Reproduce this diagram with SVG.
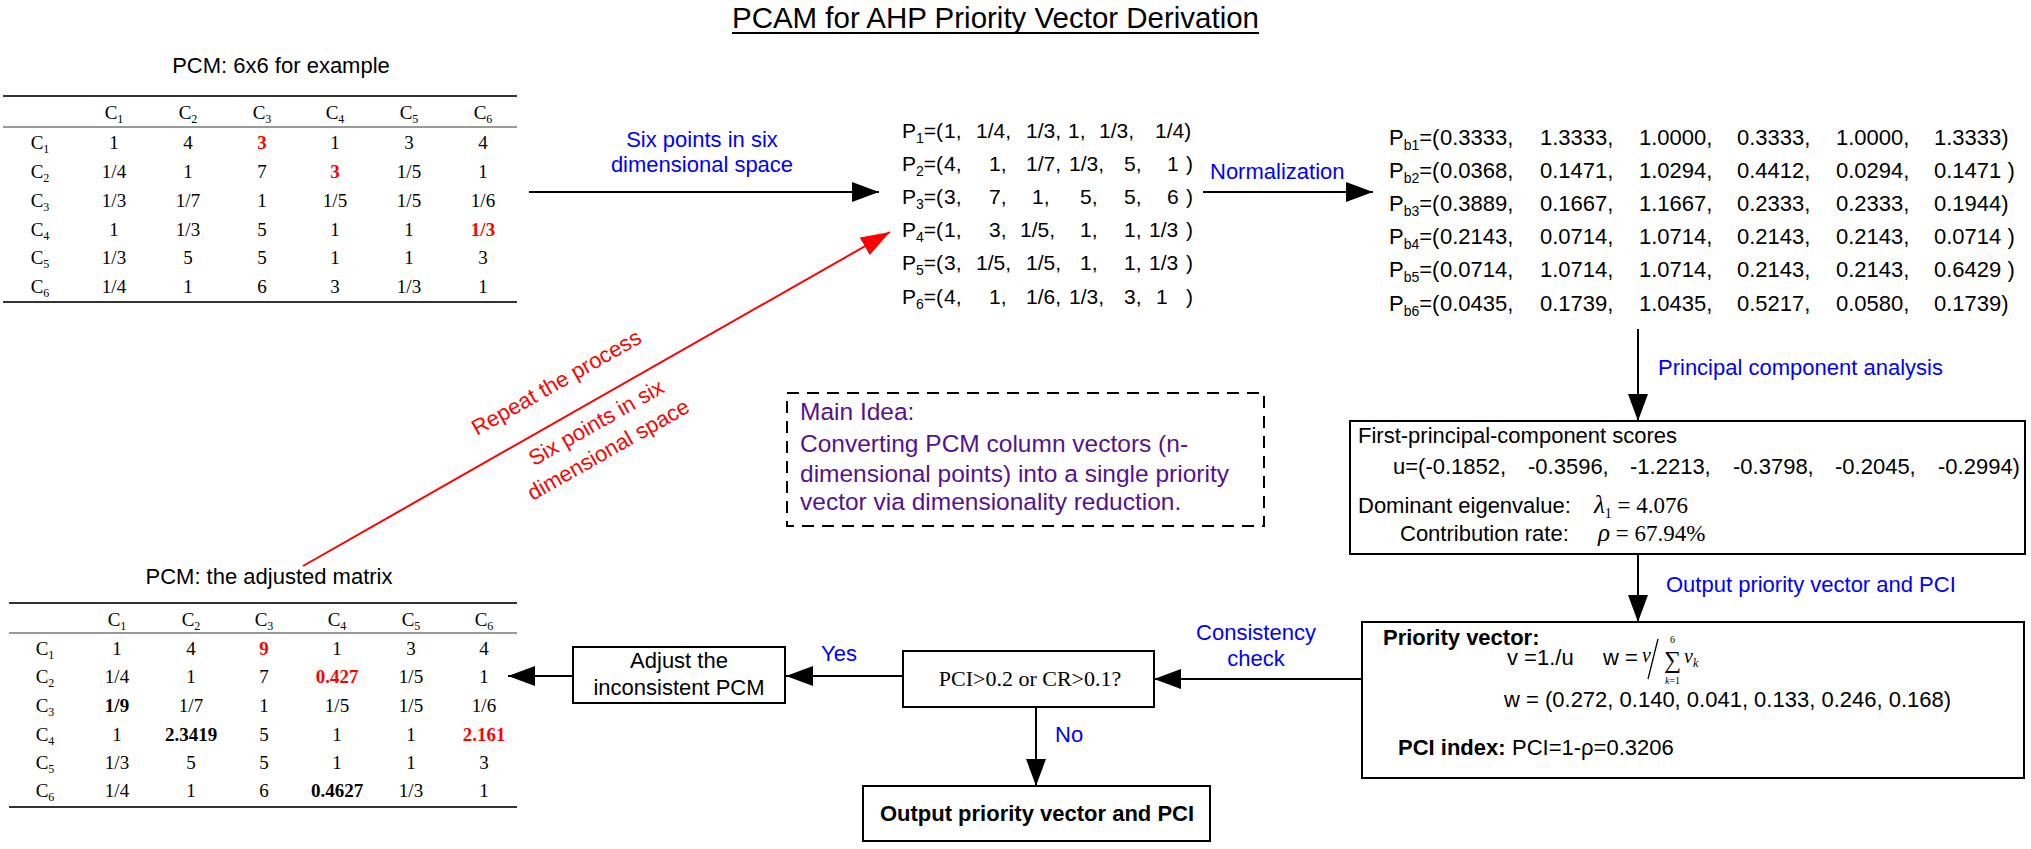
<svg xmlns="http://www.w3.org/2000/svg" width="2031" height="849" viewBox="0 0 2031 849">
<style>
.t{font-family:"Liberation Sans",Arial,sans-serif;font-size:22px;fill:#000}
.tm{font-family:"Liberation Serif","Times New Roman",serif;font-size:19px;fill:#000}
.blue{fill:#0000FF}
.red{fill:#FF0000}
.pur{fill:#55128F;font-size:24.5px}
.b{font-weight:bold}
.rb{font-weight:bold;fill:#FF0000}
.p21{font-size:21px}
.sub{font-size:14px}
.tsub{font-size:12px}
.box{fill:#fff;stroke:#000;stroke-width:2}
.conn{stroke:#000;stroke-width:2;fill:none}
.rule1{stroke:#333;stroke-width:2.2}
.rule2{stroke:#777;stroke-width:1.3}
</style>
<defs>
<marker id="ah" markerUnits="userSpaceOnUse" markerWidth="28" markerHeight="20" refX="27" refY="10" orient="auto"><path d="M0,0 L27,10 L0,20 z" fill="#000"/></marker>
<marker id="ahr" markerUnits="userSpaceOnUse" markerWidth="30" markerHeight="20" refX="29" refY="10" orient="auto"><path d="M0,0 L29,10 L0,20 z" fill="#FF0000"/></marker>
</defs>
<rect width="2031" height="849" fill="#fff"/>

<g id="title">
<text class="t" x="732" y="28" style="font-size:29.5px" textLength="527" lengthAdjust="spacingAndGlyphs">PCAM for AHP Priority Vector Derivation</text>
<line x1="732" y1="33" x2="1259" y2="33" stroke="#000" stroke-width="2"/>
</g>

<g id="pcm-top">
<text class="t" x="281" y="73" text-anchor="middle">PCM: 6x6 for example</text>
<line class="rule1" x1="3" y1="96" x2="517" y2="96"/>
<line class="rule2" x1="3" y1="127" x2="517" y2="127"/>
<line class="rule1" x1="3" y1="302" x2="517" y2="302"/>
<text class="tm" y="119" text-anchor="middle"><tspan x="114">C<tspan class="tsub" dy="4">1</tspan></tspan><tspan x="188" dy="-4">C<tspan class="tsub" dy="4">2</tspan></tspan><tspan x="262" dy="-4">C<tspan class="tsub" dy="4">3</tspan></tspan><tspan x="335" dy="-4">C<tspan class="tsub" dy="4">4</tspan></tspan><tspan x="409" dy="-4">C<tspan class="tsub" dy="4">5</tspan></tspan><tspan x="483" dy="-4">C<tspan class="tsub" dy="4">6</tspan></tspan></text>
<text class="tm" x="40" y="149" text-anchor="middle">C<tspan class="tsub" dy="4">1</tspan></text>
<text class="tm" x="40" y="178" text-anchor="middle">C<tspan class="tsub" dy="4">2</tspan></text>
<text class="tm" x="40" y="207" text-anchor="middle">C<tspan class="tsub" dy="4">3</tspan></text>
<text class="tm" x="40" y="236" text-anchor="middle">C<tspan class="tsub" dy="4">4</tspan></text>
<text class="tm" x="40" y="264" text-anchor="middle">C<tspan class="tsub" dy="4">5</tspan></text>
<text class="tm" x="40" y="293" text-anchor="middle">C<tspan class="tsub" dy="4">6</tspan></text>
<text class="tm" y="149" text-anchor="middle"><tspan x="114">1</tspan><tspan x="188">4</tspan><tspan x="262" class="rb">3</tspan><tspan x="335">1</tspan><tspan x="409">3</tspan><tspan x="483">4</tspan></text>
<text class="tm" y="178" text-anchor="middle"><tspan x="114">1/4</tspan><tspan x="188">1</tspan><tspan x="262">7</tspan><tspan x="335" class="rb">3</tspan><tspan x="409">1/5</tspan><tspan x="483">1</tspan></text>
<text class="tm" y="207" text-anchor="middle"><tspan x="114">1/3</tspan><tspan x="188">1/7</tspan><tspan x="262">1</tspan><tspan x="335">1/5</tspan><tspan x="409">1/5</tspan><tspan x="483">1/6</tspan></text>
<text class="tm" y="236" text-anchor="middle"><tspan x="114">1</tspan><tspan x="188">1/3</tspan><tspan x="262">5</tspan><tspan x="335">1</tspan><tspan x="409">1</tspan><tspan x="483" class="rb">1/3</tspan></text>
<text class="tm" y="264" text-anchor="middle"><tspan x="114">1/3</tspan><tspan x="188">5</tspan><tspan x="262">5</tspan><tspan x="335">1</tspan><tspan x="409">1</tspan><tspan x="483">3</tspan></text>
<text class="tm" y="293" text-anchor="middle"><tspan x="114">1/4</tspan><tspan x="188">1</tspan><tspan x="262">6</tspan><tspan x="335">3</tspan><tspan x="409">1/3</tspan><tspan x="483">1</tspan></text>
</g>

<g id="points">
<text class="t p21" y="138"><tspan x="902">P</tspan><tspan class="sub" dy="5">1</tspan><tspan dy="-5">=(</tspan><tspan x="944">1,</tspan><tspan x="976">1/4,</tspan><tspan x="1026">1/3,</tspan><tspan x="1068">1,</tspan><tspan x="1099">1/3,</tspan><tspan x="1155">1/4)</tspan></text>
<text class="t p21" y="171"><tspan x="902">P</tspan><tspan class="sub" dy="5">2</tspan><tspan dy="-5">=(</tspan><tspan x="944">4,</tspan><tspan x="989">1,</tspan><tspan x="1026">1/7,</tspan><tspan x="1069">1/3,</tspan><tspan x="1124">5,</tspan><tspan x="1167">1</tspan><tspan x="1186">)</tspan></text>
<text class="t p21" y="204"><tspan x="902">P</tspan><tspan class="sub" dy="5">3</tspan><tspan dy="-5">=(</tspan><tspan x="944">3,</tspan><tspan x="989">7,</tspan><tspan x="1032">1,</tspan><tspan x="1080">5,</tspan><tspan x="1124">5,</tspan><tspan x="1167">6</tspan><tspan x="1186">)</tspan></text>
<text class="t p21" y="237"><tspan x="902">P</tspan><tspan class="sub" dy="5">4</tspan><tspan dy="-5">=(</tspan><tspan x="944">1,</tspan><tspan x="989">3,</tspan><tspan x="1020">1/5,</tspan><tspan x="1080">1,</tspan><tspan x="1124">1,</tspan><tspan x="1149">1/3</tspan><tspan x="1186">)</tspan></text>
<text class="t p21" y="270"><tspan x="902">P</tspan><tspan class="sub" dy="5">5</tspan><tspan dy="-5">=(</tspan><tspan x="944">3,</tspan><tspan x="976">1/5,</tspan><tspan x="1026">1/5,</tspan><tspan x="1080">1,</tspan><tspan x="1124">1,</tspan><tspan x="1149">1/3</tspan><tspan x="1186">)</tspan></text>
<text class="t p21" y="304"><tspan x="902">P</tspan><tspan class="sub" dy="5">6</tspan><tspan dy="-5">=(</tspan><tspan x="944">4,</tspan><tspan x="989">1,</tspan><tspan x="1026">1/6,</tspan><tspan x="1069">1/3,</tspan><tspan x="1124">3,</tspan><tspan x="1156">1</tspan><tspan x="1186">)</tspan></text>
</g>

<g id="normalized">
<text class="t" y="145"><tspan x="1389">P</tspan><tspan class="sub" dy="5">b1</tspan><tspan dy="-5">=(</tspan><tspan x="1440">0.3333,</tspan><tspan x="1540">1.3333,</tspan><tspan x="1639">1.0000,</tspan><tspan x="1737">0.3333,</tspan><tspan x="1836">1.0000,</tspan><tspan x="1934">1.3333)</tspan></text>
<text class="t" y="178"><tspan x="1389">P</tspan><tspan class="sub" dy="5">b2</tspan><tspan dy="-5">=(</tspan><tspan x="1440">0.0368,</tspan><tspan x="1540">0.1471,</tspan><tspan x="1639">1.0294,</tspan><tspan x="1737">0.4412,</tspan><tspan x="1836">0.0294,</tspan><tspan x="1934">0.1471 )</tspan></text>
<text class="t" y="211"><tspan x="1389">P</tspan><tspan class="sub" dy="5">b3</tspan><tspan dy="-5">=(</tspan><tspan x="1440">0.3889,</tspan><tspan x="1540">0.1667,</tspan><tspan x="1639">1.1667,</tspan><tspan x="1737">0.2333,</tspan><tspan x="1836">0.2333,</tspan><tspan x="1934">0.1944)</tspan></text>
<text class="t" y="244"><tspan x="1389">P</tspan><tspan class="sub" dy="5">b4</tspan><tspan dy="-5">=(</tspan><tspan x="1440">0.2143,</tspan><tspan x="1540">0.0714,</tspan><tspan x="1639">1.0714,</tspan><tspan x="1737">0.2143,</tspan><tspan x="1836">0.2143,</tspan><tspan x="1934">0.0714 )</tspan></text>
<text class="t" y="277"><tspan x="1389">P</tspan><tspan class="sub" dy="5">b5</tspan><tspan dy="-5">=(</tspan><tspan x="1440">0.0714,</tspan><tspan x="1540">1.0714,</tspan><tspan x="1639">1.0714,</tspan><tspan x="1737">0.2143,</tspan><tspan x="1836">0.2143,</tspan><tspan x="1934">0.6429 )</tspan></text>
<text class="t" y="311"><tspan x="1389">P</tspan><tspan class="sub" dy="5">b6</tspan><tspan dy="-5">=(</tspan><tspan x="1440">0.0435,</tspan><tspan x="1540">0.1739,</tspan><tspan x="1639">1.0435,</tspan><tspan x="1737">0.5217,</tspan><tspan x="1836">0.0580,</tspan><tspan x="1934">0.1739)</tspan></text>
</g>

<g id="pca-scores">
<rect class="box" x="1350" y="421" width="675" height="133"/>
<text class="t" x="1358" y="443">First-principal-component scores</text>
<text class="t" y="474"><tspan x="1393">u=(-0.1852,</tspan><tspan x="1528">-0.3596,</tspan><tspan x="1630">-1.2213,</tspan><tspan x="1733">-0.3798,</tspan><tspan x="1835">-0.2045,</tspan><tspan x="1938">-0.2994)</tspan></text>
<text class="t" x="1358" y="513">Dominant eigenvalue:</text>
<text class="tm" x="1594" y="513" style="font-size:23px"><tspan style="font-style:italic;font-size:25px">λ</tspan><tspan style="font-size:14px" dy="5">1</tspan><tspan dy="-5"> = 4.076</tspan></text>
<text class="t" x="1400" y="541">Contribution rate:</text>
<text class="tm" x="1598" y="541" style="font-size:23px"><tspan style="font-style:italic;font-size:25px">ρ</tspan> = 67.94%</text>
</g>

<g id="priority">
<rect class="box" x="1362" y="622" width="662" height="156"/>
<text class="t b" x="1383" y="645">Priority vector:</text>
<text class="t" x="1507" y="665">v =1./u</text>
<text class="t" x="1603" y="665">w =</text>
<text class="tm" x="1642" y="662" style="font-size:20px;font-style:italic">v</text>
<line x1="1648" y1="679" x2="1658" y2="639" stroke="#000" stroke-width="1.3"/>
<text class="tm" x="1664" y="668" style="font-size:24px">∑</text>
<text class="tm" x="1670" y="643" style="font-size:10px">6</text>
<text class="tm" x="1665" y="684" style="font-size:10px"><tspan style="font-style:italic">k</tspan>=1</text>
<text class="tm" x="1684" y="663" style="font-size:20px;font-style:italic">v<tspan style="font-size:12px" dy="4">k</tspan></text>
<text class="t" x="1504" y="707">w = (0.272, 0.140, 0.041, 0.133, 0.246, 0.168)</text>
<text class="t" x="1398" y="755"><tspan class="b">PCI index:</tspan><tspan x="1512">PCI=1-ρ=0.3206</tspan></text>
</g>

<g id="decision">
<rect class="box" x="903" y="651" width="251" height="56"/>
<text class="tm" x="1030" y="686" style="font-size:22px" text-anchor="middle">PCI&gt;0.2 or CR&gt;0.1?</text>
</g>

<g id="adjust">
<rect class="box" x="573" y="647" width="212" height="56"/>
<text class="t" x="679" y="668" text-anchor="middle">Adjust the</text>
<text class="t" x="679" y="695" text-anchor="middle">inconsistent PCM</text>
</g>

<g id="output">
<rect class="box" x="863" y="786" width="347" height="55"/>
<text class="t b" x="1037" y="821" text-anchor="middle">Output priority vector and PCI</text>
</g>

<g id="main-idea">
<rect x="787" y="393" width="477" height="133" fill="none" stroke="#000" stroke-width="2" stroke-dasharray="12,8"/>
<text class="t pur" x="800" y="420">Main Idea:</text>
<text class="t pur" x="800" y="452">Converting PCM column vectors (n-</text>
<text class="t pur" x="800" y="482">dimensional points) into a single priority</text>
<text class="t pur" x="800" y="510">vector via dimensionality reduction.</text>
</g>

<g id="pcm-adjusted">
<text class="t" x="269" y="584" text-anchor="middle">PCM: the adjusted matrix</text>
<line class="rule1" x1="9" y1="603" x2="517" y2="603"/>
<line class="rule2" x1="9" y1="633" x2="517" y2="633"/>
<line class="rule1" x1="9" y1="807" x2="517" y2="807"/>
<text class="tm" y="626" text-anchor="middle"><tspan x="117">C<tspan class="tsub" dy="4">1</tspan></tspan><tspan x="191" dy="-4">C<tspan class="tsub" dy="4">2</tspan></tspan><tspan x="264" dy="-4">C<tspan class="tsub" dy="4">3</tspan></tspan><tspan x="337" dy="-4">C<tspan class="tsub" dy="4">4</tspan></tspan><tspan x="411" dy="-4">C<tspan class="tsub" dy="4">5</tspan></tspan><tspan x="484" dy="-4">C<tspan class="tsub" dy="4">6</tspan></tspan></text>
<text class="tm" x="45" y="655" text-anchor="middle">C<tspan class="tsub" dy="4">1</tspan></text>
<text class="tm" x="45" y="683" text-anchor="middle">C<tspan class="tsub" dy="4">2</tspan></text>
<text class="tm" x="45" y="712" text-anchor="middle">C<tspan class="tsub" dy="4">3</tspan></text>
<text class="tm" x="45" y="741" text-anchor="middle">C<tspan class="tsub" dy="4">4</tspan></text>
<text class="tm" x="45" y="769" text-anchor="middle">C<tspan class="tsub" dy="4">5</tspan></text>
<text class="tm" x="45" y="797" text-anchor="middle">C<tspan class="tsub" dy="4">6</tspan></text>
<text class="tm" y="655" text-anchor="middle"><tspan x="117">1</tspan><tspan x="191">4</tspan><tspan x="264" class="rb">9</tspan><tspan x="337">1</tspan><tspan x="411">3</tspan><tspan x="484">4</tspan></text>
<text class="tm" y="683" text-anchor="middle"><tspan x="117">1/4</tspan><tspan x="191">1</tspan><tspan x="264">7</tspan><tspan x="337" class="rb">0.427</tspan><tspan x="411">1/5</tspan><tspan x="484">1</tspan></text>
<text class="tm" y="712" text-anchor="middle"><tspan x="117" class="b">1/9</tspan><tspan x="191">1/7</tspan><tspan x="264">1</tspan><tspan x="337">1/5</tspan><tspan x="411">1/5</tspan><tspan x="484">1/6</tspan></text>
<text class="tm" y="741" text-anchor="middle"><tspan x="117">1</tspan><tspan x="191" class="b">2.3419</tspan><tspan x="264">5</tspan><tspan x="337">1</tspan><tspan x="411">1</tspan><tspan x="484" class="rb">2.161</tspan></text>
<text class="tm" y="769" text-anchor="middle"><tspan x="117">1/3</tspan><tspan x="191">5</tspan><tspan x="264">5</tspan><tspan x="337">1</tspan><tspan x="411">1</tspan><tspan x="484">3</tspan></text>
<text class="tm" y="797" text-anchor="middle"><tspan x="117">1/4</tspan><tspan x="191">1</tspan><tspan x="264">6</tspan><tspan x="337" class="b">0.4627</tspan><tspan x="411">1/3</tspan><tspan x="484">1</tspan></text>
</g>

<g id="connectors">
<line class="conn" x1="529" y1="192" x2="879" y2="192" marker-end="url(#ah)"/>
<text class="t blue" x="702" y="147" text-anchor="middle">Six points in six</text>
<text class="t blue" x="702" y="172" text-anchor="middle">dimensional space</text>
<line class="conn" x1="1203" y1="192" x2="1373" y2="192" marker-end="url(#ah)"/>
<text class="t blue" x="1210" y="179">Normalization</text>
<line class="conn" x1="1638" y1="329" x2="1638" y2="421" marker-end="url(#ah)"/>
<text class="t blue" x="1658" y="375">Principal component analysis</text>
<line class="conn" x1="1638" y1="554" x2="1638" y2="622" marker-end="url(#ah)"/>
<text class="t blue" x="1666" y="592">Output priority vector and PCI</text>
<line class="conn" x1="1362" y1="679" x2="1154" y2="679" marker-end="url(#ah)"/>
<text class="t blue" x="1256" y="640" text-anchor="middle">Consistency</text>
<text class="t blue" x="1256" y="666" text-anchor="middle">check</text>
<line class="conn" x1="903" y1="676" x2="786" y2="676" marker-end="url(#ah)"/>
<text class="t blue" x="821" y="661">Yes</text>
<line class="conn" x1="573" y1="676" x2="508" y2="676" marker-end="url(#ah)"/>
<line class="conn" x1="1036" y1="707" x2="1036" y2="786" marker-end="url(#ah)"/>
<text class="t blue" x="1055" y="742">No</text>
<line x1="303" y1="566" x2="890" y2="232" stroke="#FF0000" stroke-width="2" marker-end="url(#ahr)"/>
<text class="t red" transform="translate(560,389) rotate(-29.6)" text-anchor="middle">Repeat the process</text>
<text class="t red" transform="translate(600,429) rotate(-29.6)" text-anchor="middle">Six points in six</text>
<text class="t red" transform="translate(612,456) rotate(-29.6)" text-anchor="middle">dimensional space</text>
</g>
</svg>
